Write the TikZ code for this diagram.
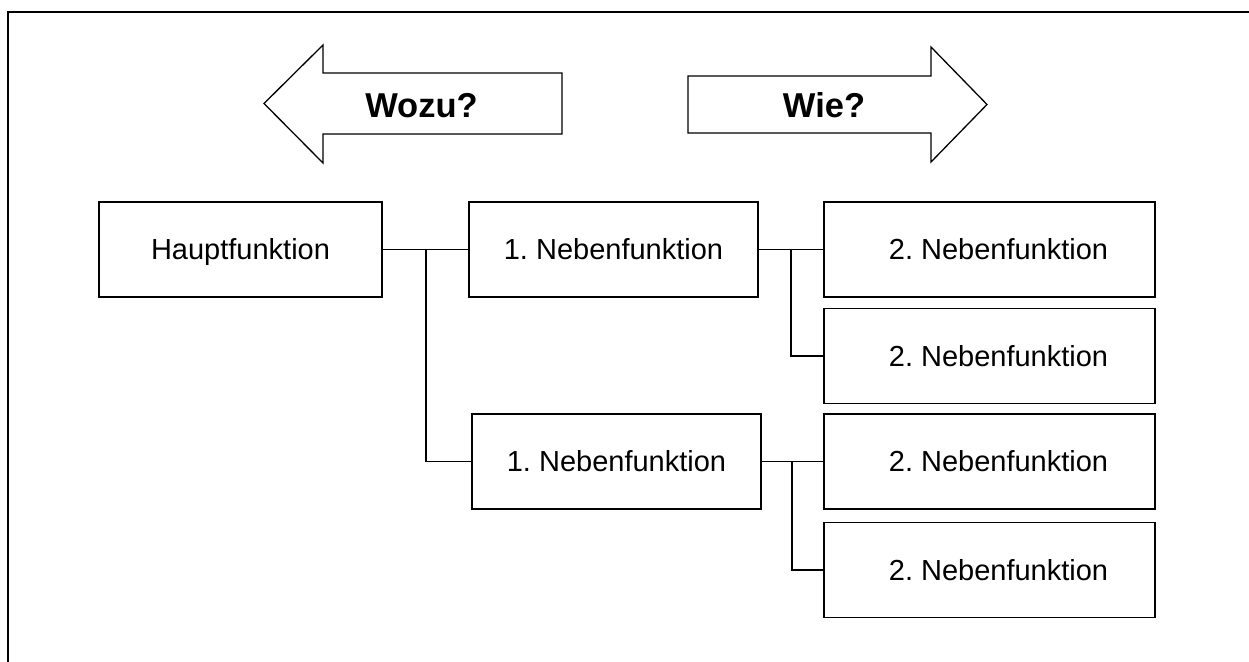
\documentclass[tikz,border=0pt]{standalone}
\usepackage{fontspec}
\setmainfont{Liberation Sans}
\frenchspacing
\begin{document}
\begin{tikzpicture}[x=1pt,y=-1pt,
  box/.style={draw=black,line width=1.3pt,fill=white,inner sep=0pt,
    minimum height=95pt,text height=20.8pt,text depth=0pt,
    font=\fontsize{29}{34}\selectfont},
  mainbox/.style={box,minimum width=283pt},
  firstbox/.style={box,minimum width=289pt},
  secondbox/.style={box,minimum width=331pt,execute at begin node=\hspace*{18pt}},
  link/.style={draw=black,line width=1.3pt},
  bigarrow/.style={draw=black,line width=1.3pt,fill=white,line join=miter},
  arrowlabel/.style={font=\fontsize{34.5}{40}\bfseries\selectfont,inner sep=0pt,
    text height=24.7pt,text depth=0pt}]
\useasboundingbox (0,0) rectangle (1249,661);

% open frame: top and left edges only
\draw[line width=2.3pt] (8,680) -- (8,12) -- (1270,12);

% direction arrows
\draw[bigarrow] (264,103.5) -- (323,45) -- (323,73) -- (562,73) -- (562,134)
  -- (323,134) -- (323,163) -- cycle;
\node[arrowlabel] (wozu) at (421.5,105) {Wozu?};
\draw[bigarrow] (688,76) -- (931,76) -- (931,47) -- (987,104.5) -- (931,162)
  -- (931,133) -- (688,133) -- cycle;
\node[arrowlabel] (wie) at (824,105) {Wie?};

% function boxes
\node[mainbox]   (h)  at (240.5,249.5) {Hauptfunktion};
\node[firstbox]  (n1) at (613.5,249.5) {1. Nebenfunktion};
\node[firstbox]  (n2) at (616.5,461.5) {1. Nebenfunktion};
\node[secondbox] (s1) at (989.5,249.5) {2. Nebenfunktion};
\node[secondbox] (s2) at (989.5,356)   {2. Nebenfunktion};
\node[secondbox] (s3) at (989.5,461.5) {2. Nebenfunktion};
\node[secondbox] (s4) at (989.5,570)   {2. Nebenfunktion};

% branch points
\coordinate (j0) at (426,249.5);
\coordinate (j1) at (791,249.5);
\coordinate (j2) at (792,461.5);

% tree connectors
\draw[link] (h.east) -- (n1.west);
\draw[link] (j0) |- (n2.west);
\draw[link] (n1.east) -- (s1.west);
\draw[link] (j1) |- (s2.west);
\draw[link] (n2.east) -- (s3.west);
\draw[link] (j2) |- (s4.west);
\end{tikzpicture}
\end{document}
